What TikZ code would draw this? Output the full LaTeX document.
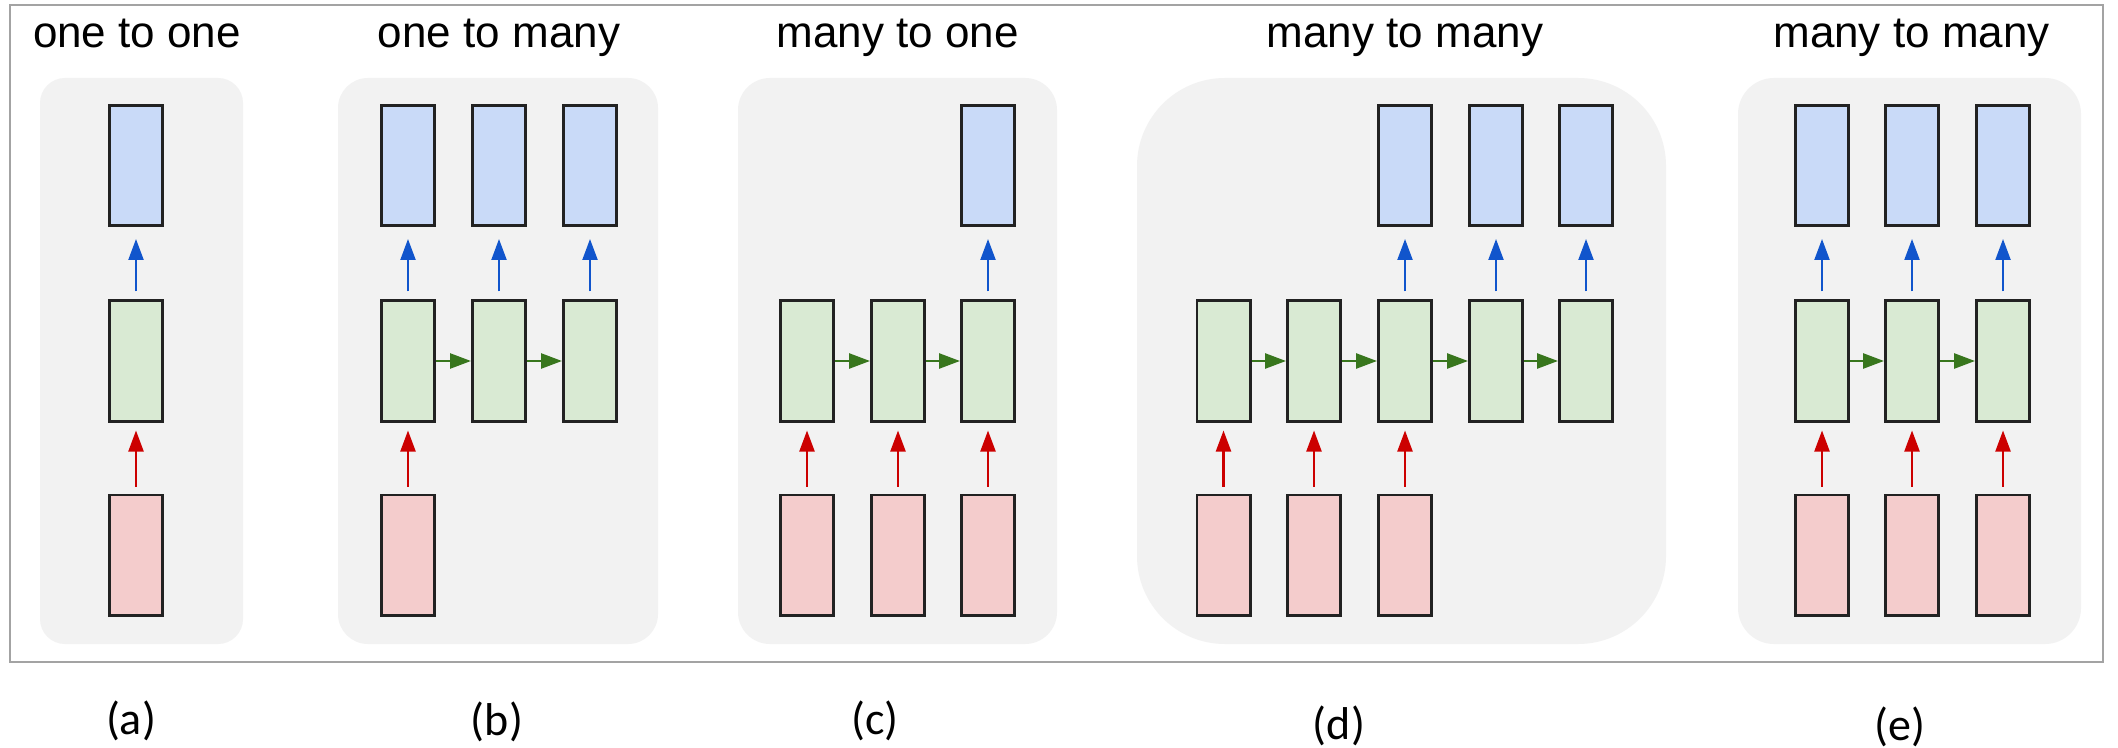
\documentclass[tikz,border=0pt]{standalone}
\usepackage{fontspec}
\setmainfont{Liberation Sans}
\newfontfamily\labelfont{Carlito}
\usetikzlibrary{arrows.meta}
\definecolor{panelgray}{HTML}{F2F2F2}
\definecolor{framegray}{HTML}{A3A3A3}
\definecolor{bluefill}{HTML}{C9DAF8}
\definecolor{greenfill}{HTML}{D9EAD3}
\definecolor{redfill}{HTML}{F4CCCC}
\definecolor{boxline}{HTML}{222222}
\definecolor{arrowblue}{HTML}{1155CC}
\definecolor{arrowred}{HTML}{CC0000}
\definecolor{arrowgreen}{HTML}{38761D}
\tikzset{
  box/.style={draw=boxline, line width=1.3pt, minimum width=26.7pt, minimum height=60.2pt, inner sep=0pt},
  bluebox/.style={box, fill=bluefill},
  greenbox/.style={box, fill=greenfill},
  redbox/.style={box, fill=redfill},
  tipstyle/.style={-{Triangle[length=10.5pt,width=7.5pt]}},
  bluearrow/.style={tipstyle, line width=1.1pt, draw=arrowblue, shorten <=4pt, shorten >=6pt},
  redarrow/.style={tipstyle, line width=1.1pt, draw=arrowred, shorten <=3.5pt, shorten >=4pt},
  greenarrow/.style={tipstyle, line width=1.3pt, draw=arrowgreen},
  panel/.style={fill=panelgray},
  frame/.style={draw=framegray, line width=1pt},
  title/.style={anchor=base, inner sep=0pt, font=\fontsize{22pt}{26pt}\selectfont},
  sublabel/.style={inner sep=0pt, font=\labelfont\fontsize{23pt}{27pt}\selectfont}
}
\begin{document}
\begin{tikzpicture}[x=0.5pt,y=-0.5pt]
\useasboundingbox (0,0) rectangle (2118,748);
\fill[white] (0,0) rectangle (2118,748);
\draw[frame] (10,5) rectangle (2103,662);
% panels
\fill[panel, rounded corners=12.5pt] (40,78) rectangle (243,644);
\fill[panel, rounded corners=15pt] (338,78) rectangle (658,644);
\fill[panel, rounded corners=16pt] (738,78) rectangle (1057,644);
\fill[panel, rounded corners=44pt] (1137,78) rectangle (1666,644);
\fill[panel, rounded corners=18pt] (1738,78) rectangle (2081,644);
% titles
\node[title] (ta) at (137,48) {one to one};
\node[title] (tb) at (499,48) {one to many};
\node[title] (tc) at (897.5,48) {many to one};
\node[title] (td) at (1405,48) {many to many};
\node[title] (te) at (1911.5,48) {many to many};
% sub labels
\node[sublabel] (la) at (131,721) {(a)};
\node[sublabel] (lb) at (497,722) {(b)};
\node[sublabel] (lc) at (875,721) {(c)};
\node[sublabel] (ld) at (1339,726) {(d)};
\node[sublabel] (le) at (1900,727) {(e)};
% (a) one to one
\node[bluebox] (a-b1) at (136,165.5) {};
\node[greenbox] (a-g1) at (136,361) {};
\node[redbox] (a-r1) at (136,555) {};
\draw[bluearrow] (a-g1) -- (a-b1);
\draw[redarrow] (a-r1) -- (a-g1);
% (b) one to many
\foreach \n/\x in {1/408,2/499,3/590}{
  \node[bluebox] (b-b\n) at (\x,165.5) {};
  \node[greenbox] (b-g\n) at (\x,361) {};
  \draw[bluearrow] (b-g\n) -- (b-b\n);
}
\node[redbox] (b-r1) at (408,555) {};
\draw[redarrow] (b-r1) -- (b-g1);
\draw[greenarrow] (b-g1) -- (b-g2);
\draw[greenarrow] (b-g2) -- (b-g3);
% (c) many to one
\foreach \n/\x in {1/807,2/898,3/988}{
  \node[greenbox] (c-g\n) at (\x,361) {};
  \node[redbox] (c-r\n) at (\x,555) {};
  \draw[redarrow] (c-r\n) -- (c-g\n);
}
\node[bluebox] (c-b3) at (988,165.5) {};
\draw[bluearrow] (c-g3) -- (c-b3);
\draw[greenarrow] (c-g1) -- (c-g2);
\draw[greenarrow] (c-g2) -- (c-g3);
% (d) many to many (delayed)
\foreach \n/\x in {1/1223.5,2/1314,3/1405,4/1496,5/1586}{
  \node[greenbox] (d-g\n) at (\x,361) {};
}
\foreach \n/\x in {1/1223.5,2/1314,3/1405}{
  \node[redbox] (d-r\n) at (\x,555) {};
  \draw[redarrow] (d-r\n) -- (d-g\n);
}
\foreach \n/\x in {3/1405,4/1496,5/1586}{
  \node[bluebox] (d-b\n) at (\x,165.5) {};
  \draw[bluearrow] (d-g\n) -- (d-b\n);
}
\draw[greenarrow] (d-g1) -- (d-g2);
\draw[greenarrow] (d-g2) -- (d-g3);
\draw[greenarrow] (d-g3) -- (d-g4);
\draw[greenarrow] (d-g4) -- (d-g5);
% (e) many to many (synced)
\foreach \n/\x in {1/1822,2/1912,3/2003}{
  \node[bluebox] (e-b\n) at (\x,165.5) {};
  \node[greenbox] (e-g\n) at (\x,361) {};
  \node[redbox] (e-r\n) at (\x,555) {};
  \draw[bluearrow] (e-g\n) -- (e-b\n);
  \draw[redarrow] (e-r\n) -- (e-g\n);
}
\draw[greenarrow] (e-g1) -- (e-g2);
\draw[greenarrow] (e-g2) -- (e-g3);
\end{tikzpicture}
\end{document}
